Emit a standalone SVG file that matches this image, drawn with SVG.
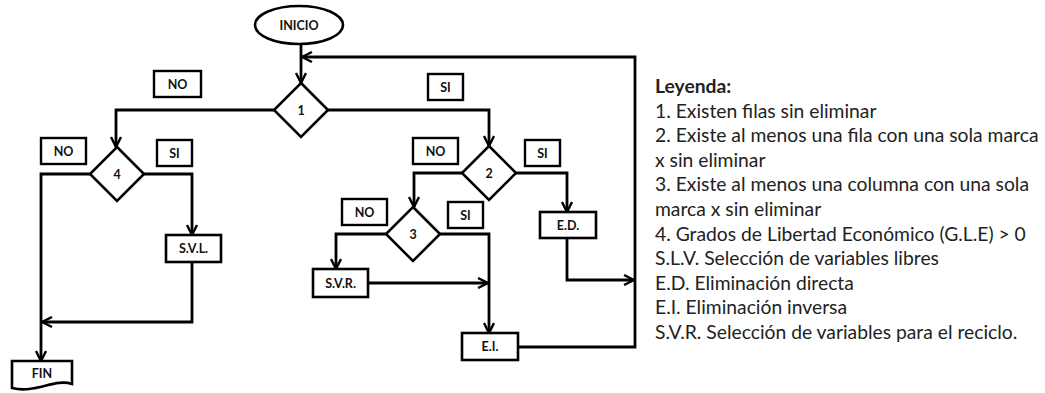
<svg xmlns="http://www.w3.org/2000/svg" width="1045" height="393" viewBox="0 0 1045 393">
<style>
.shape{fill:#fff;stroke:#000;stroke-width:2.6}
.lbl{fill:#fff;stroke:#000;stroke-width:2.4}
.t{font-family:Lato,"Liberation Sans",sans-serif;font-weight:bold;font-size:12.5px;fill:#111;text-anchor:middle;dominant-baseline:central}
.c{fill:none;stroke:#000;stroke-width:2.8;stroke-linejoin:miter}
.leg{font-family:Lato,"Liberation Sans",sans-serif;font-size:19.3px;fill:#222}
</style>
<defs>
<marker id="ah" viewBox="0 0 12 12" refX="11" refY="6" markerWidth="12" markerHeight="12" markerUnits="userSpaceOnUse" orient="auto">
<path d="M1,1 L11,6 L1,11" fill="none" stroke="#000" stroke-width="2.4"/>
</marker>
</defs>
<rect width="1045" height="393" fill="#fff"/>
<g id="connectors">
<path class="c" d="M301,44 V83" marker-end="url(#ah)"/>
<path class="c" d="M274,110 H116 V147" marker-end="url(#ah)"/>
<path class="c" d="M328,110 H489 V146" marker-end="url(#ah)"/>
<path class="c" d="M90,174 H41 V361" marker-end="url(#ah)"/>
<path class="c" d="M144,174 H192 V235" marker-end="url(#ah)"/>
<path class="c" d="M192,262 V322 H42" marker-end="url(#ah)"/>
<path class="c" d="M462,173 H414 V207" marker-end="url(#ah)"/>
<path class="c" d="M516,173 H567 V212" marker-end="url(#ah)"/>
<path class="c" d="M567,238 V280 H634" marker-end="url(#ah)"/>
<path class="c" d="M386,234 H336 V269" marker-end="url(#ah)"/>
<path class="c" d="M440,234 H489 V333" marker-end="url(#ah)"/>
<path class="c" d="M368,283 H488" marker-end="url(#ah)"/>
<path class="c" d="M518,347 H635 V57 H302" marker-end="url(#ah)"/>
</g>
<g id="inicio"><ellipse class="shape" cx="299" cy="25" rx="44" ry="19"/><text class="t" x="299" y="25">INICIO</text></g>
<g id="d1"><polygon class="shape" points="301,83 328,110 301,137 274,110"/><text class="t" x="301" y="110">1</text></g>
<g id="d4"><polygon class="shape" points="117,147 144,174 117,201 90,174"/><text class="t" x="117" y="174">4</text></g>
<g id="d2"><polygon class="shape" points="489,146 516,173 489,200 462,173"/><text class="t" x="489" y="173">2</text></g>
<g id="d3"><polygon class="shape" points="413,207 440,234 413,261 386,234"/><text class="t" x="413" y="234">3</text></g>
<g id="no1"><rect class="lbl" x="154" y="71" width="47" height="26"/><text class="t" x="177.5" y="84">NO</text></g>
<g id="no4"><rect class="lbl" x="41" y="138" width="45" height="26"/><text class="t" x="63.5" y="151">NO</text></g>
<g id="si4"><rect class="lbl" x="157" y="140" width="35" height="26"/><text class="t" x="174.5" y="153">SI</text></g>
<g id="si1"><rect class="lbl" x="428" y="74" width="35" height="26"/><text class="t" x="445.5" y="87">SI</text></g>
<g id="no2"><rect class="lbl" x="413" y="138" width="45" height="26"/><text class="t" x="435.5" y="151">NO</text></g>
<g id="si2"><rect class="lbl" x="525" y="140" width="35" height="26"/><text class="t" x="542.5" y="153">SI</text></g>
<g id="no3"><rect class="lbl" x="342" y="199" width="45" height="26"/><text class="t" x="364.5" y="212">NO</text></g>
<g id="si3"><rect class="lbl" x="448" y="202" width="35" height="26"/><text class="t" x="465.5" y="215">SI</text></g>
<g id="svl"><rect class="shape" x="166" y="235" width="55" height="27"/><text class="t" x="193.5" y="248.5">S.V.L.</text></g>
<g id="ed"><rect class="shape" x="540" y="212" width="56" height="26"/><text class="t" x="568" y="225">E.D.</text></g>
<g id="svr"><rect class="shape" x="313" y="269" width="55" height="28"/><text class="t" x="340.5" y="283">S.V.R.</text></g>
<g id="ei"><rect class="shape" x="462" y="333" width="56" height="27"/><text class="t" x="490" y="346.5">E.I.</text></g>
<g id="fin"><path class="shape" d="M12,361 H72 V384 C55,378 35,394 12,388 Z"/><text class="t" x="42" y="373">FIN</text></g>
<g id="legend" class="leg">
<text x="655" y="93" font-weight="bold">Leyenda:</text>
<text x="655" y="117.6">1. Existen filas sin eliminar</text>
<text x="655" y="142.2">2. Existe al menos una fila con una sola marca</text>
<text x="655" y="166.8">x sin eliminar</text>
<text x="655" y="191.4">3. Existe al menos una columna con una sola</text>
<text x="655" y="216">marca x sin eliminar</text>
<text x="655" y="240.6">4. Grados de Libertad Económico (G.L.E) &gt; 0</text>
<text x="655" y="265.2">S.L.V. Selección de variables libres</text>
<text x="655" y="289.8">E.D. Eliminación directa</text>
<text x="655" y="314.4">E.I. Eliminación inversa</text>
<text x="655" y="339">S.V.R. Selección de variables para el reciclo.</text>
</g>
</svg>
